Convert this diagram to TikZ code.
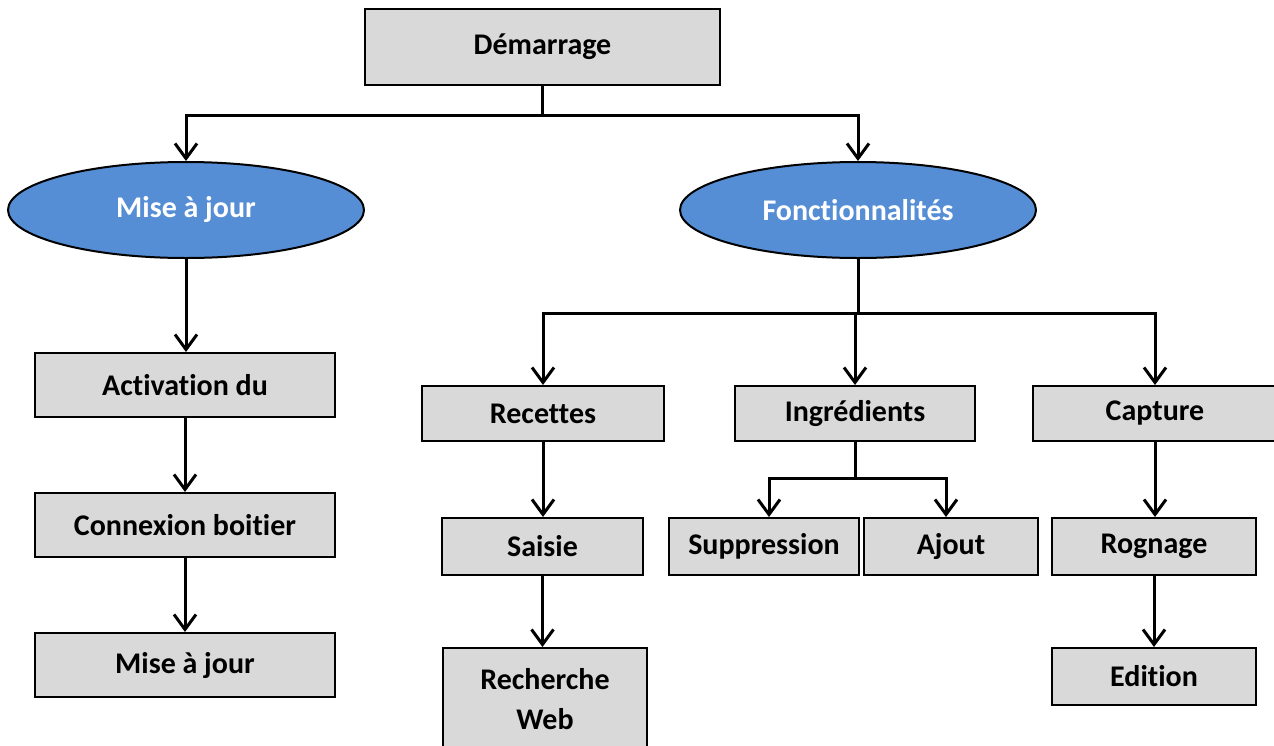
\documentclass[tikz,border=0pt]{standalone}
\usepackage{fontspec}
\setmainfont{Carlito}[Ligatures=NoCommon]
\usepackage{xcolor}
\usetikzlibrary{arrows.meta, positioning, shapes.geometric}
\definecolor{boxgray}{HTML}{D9D9D9}
\definecolor{ovalblue}{HTML}{558ED5}

\tikzset{
  stepbox/.style={draw=black, line width=2pt, fill=boxgray, rectangle,
    minimum height=57pt, inner sep=0pt, align=center,
    font=\fontsize{30}{40}\selectfont\bfseries},
  ovalnode/.style={draw=black, line width=2pt, fill=ovalblue, ellipse,
    minimum width=356pt, minimum height=96pt, inner sep=0pt, text=white,
    font=\fontsize{30}{36}\selectfont\bfseries},
  arr/.style={line width=3pt, -{Straight Barb[length=15pt, width=22pt, line width=3pt]}},
  lnk/.style={line width=3pt}
}

\begin{document}
\begin{tikzpicture}[x=1pt, y=-1pt]

  \useasboundingbox (0,0) rectangle (1274,745);

  %% Top
  \node[stepbox, minimum width=355pt, minimum height=76pt] (start) at (542.5,47) {Démarrage};

  %% Ovals
  \node[ovalnode] (majov) at (186,210) {Mise à jour};
  \node[ovalnode] (fonc) at (858,210) {Fonctionnalités};

  %% Left column
  \node[stepbox, minimum width=300pt, minimum height=64pt] (activ) at (185,385) {Activation du};
  \node[stepbox, minimum width=300pt, minimum height=64pt] (connex) at (185,525) {Connexion boitier};
  \node[stepbox, minimum width=300pt, minimum height=64pt] (majbox) at (185,665) {Mise à jour};

  %% Second level
  \node[stepbox, minimum width=242pt, minimum height=55pt] (recet) at (543,413.5) {Recettes};
  \node[stepbox, minimum width=240pt, minimum height=55pt] (ingred) at (855,413.5) {Ingrédients};
  \node[stepbox, minimum width=244pt, minimum height=55pt] (capt) at (1155,413.5) {Capture};

  %% Third level
  \node[stepbox, minimum width=201pt] (saisie) at (542.5,546.5) {Saisie};
  \node[stepbox, minimum width=190pt] (suppr) at (764,546.5) {Suppression};
  \node[stepbox, minimum width=174pt] (ajout) at (951,546.5) {Ajout};
  \node[stepbox, minimum width=204pt] (rogn) at (1154,546.5) {Rognage};

  %% Fourth level
  \node[stepbox, minimum width=204pt, minimum height=102pt] (web) at (545,699) {Recherche\\Web};
  \node[stepbox, minimum width=204pt] (edit) at (1154,676.5) {Edition};

  %% Connectors
  \draw[lnk] (start.south) -- (542.5,115) coordinate (split1);
  \draw[arr] (split1) -| (majov.north);
  \draw[arr] (split1) -| (fonc.north);

  \draw[arr] (majov.south) -- (majov.south |- activ.north);
  \draw[arr] (activ.south) -- (connex.north);
  \draw[arr] (connex.south) -- (majbox.north);

  \draw[lnk] (fonc.south) -- (858,313) coordinate (split2);
  \draw[arr] (split2) -| (recet.north);
  \draw[arr] (split2) -| (ingred.north);
  \draw[arr] (split2) -| (capt.north);

  \draw[arr] (recet.south) -- (recet.south |- saisie.north);
  \draw[arr] (saisie.south) -- (saisie.south |- web.north);

  \draw[lnk] (ingred.south) -- (855,478) coordinate (split3);
  \draw[arr] (split3) -| ([xshift=5pt]suppr.north);
  \draw[arr] (split3) -| ([xshift=-5pt]ajout.north);

  \draw[arr] (capt.south) -- (capt.south |- rogn.north);
  \draw[arr] (rogn.south) -- (edit.north);

\end{tikzpicture}
\end{document}
